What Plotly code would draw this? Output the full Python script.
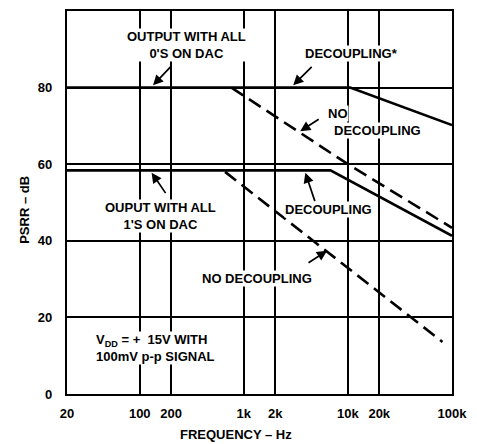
import plotly.graph_objects as go
import math

# Data
freq_0s_dec = [20, 10500, 100000]
psrr_0s_dec = [80, 80, 70.2]
freq_0s_nodec = [760, 10000, 100000]
psrr_0s_nodec = [80, 60, 43.4]
freq_1s_dec = [20, 6800, 100000]
psrr_1s_dec = [58.4, 58.4, 41.3]
freq_1s_nodec = [660, 41000, 81000]
psrr_1s_nodec = [58, 20, 13.6]

x_tickvals = [20, 100, 200, 1000, 2000, 10000, 20000, 100000]
x_ticktext = ["20", "100", "200", "1k", "2k", "10k", "20k", "100k"]
y_tickvals = [0, 20, 40, 60, 80]
y_ticktext = ["0", "20", "40", "60", "80"]

FONT = dict(family="Liberation Sans, Arial, sans-serif", size=13, color="black", weight="bold")

fig = go.Figure()
solid = dict(color="black", width=2.6)
dashed = dict(color="black", width=2.6, dash="14px,7px")
fig.add_trace(go.Scatter(x=freq_0s_dec, y=psrr_0s_dec, mode="lines", line=solid))
fig.add_trace(go.Scatter(x=freq_0s_nodec, y=psrr_0s_nodec, mode="lines", line=dashed))
fig.add_trace(go.Scatter(x=freq_1s_dec, y=psrr_1s_dec, mode="lines", line=solid))
fig.add_trace(go.Scatter(x=freq_1s_nodec, y=psrr_1s_nodec, mode="lines", line=dashed))

ann = []
def text(x, y, t, xanchor="center", align="center"):
    ann.append(dict(x=math.log10(x), y=y, xref="x", yref="y", text=t, showarrow=False,
                    font=FONT, bgcolor="white", xanchor=xanchor, align=align, borderpad=0))

def arrow(x, y, ax, ay):
    ann.append(dict(x=math.log10(x), y=y, xref="x", yref="y", text="", showarrow=True,
                    ax=ax, ay=ay, arrowhead=2, arrowsize=1.2, arrowwidth=1.7, arrowcolor="black"))

text(279, 91.2, "OUTPUT WITH ALL<br>0'S ON DAC")
text(10800, 88.8, "DECOUPLING*")
text(6300, 73.3, "NO", xanchor="left", align="left")
text(7200, 68.8, "DECOUPLING", xanchor="left", align="left")
text(157, 46.6, "OUPUT WITH ALL<br>1'S ON DAC")
text(6500, 48.3, "DECOUPLING")
text(1343, 30.1, "NO DECOUPLING")
text(37.2, 12.1, "V<sub>DD</sub> = +  15V WITH<br>100mV p-p SIGNAL", xanchor="left", align="left")

arrow(134, 80.6, 19, -20)
arrow(2980, 80.6, 20, -20)
arrow(3480, 68.6, 20, -13)
arrow(130, 57.8, 15, 22)
arrow(3900, 57.8, 10, 30)
arrow(6300, 37.4, -20, 13)

# axis titles
ann.append(dict(xref="paper", yref="paper", x=0.44, y=-0.105, yanchor="middle", text="FREQUENCY – Hz",
                showarrow=False, font=FONT))
ann.append(dict(xref="paper", yref="paper", x=-0.11, y=0.48, xanchor="center", text="PSRR – dB",
                textangle=-90, showarrow=False, font=FONT))

# the page body adds an 8px offset, so the figure is 8px smaller and shifted
fig.update_layout(
    width=469, height=436,
    margin=dict(l=59, r=25, t=1, b=50),
    plot_bgcolor="white", paper_bgcolor="white",
    showlegend=False,
    annotations=ann,
    font=FONT,
)
fig.update_xaxes(type="log", range=[math.log10(20), 5], tickvals=x_tickvals, ticktext=x_ticktext,
                 showgrid=True, gridcolor="black", gridwidth=1.5, showline=True, linecolor="black",
                 linewidth=2.2, mirror=True, ticks="outside", ticklen=6, tickcolor="rgba(0,0,0,0)",
                 zeroline=False, tickfont=FONT)
fig.update_yaxes(range=[0, 100], tickvals=y_tickvals, ticktext=y_ticktext,
                 showgrid=True, gridcolor="black", gridwidth=1.5, showline=True, linecolor="black",
                 linewidth=2.2, mirror=True, ticks="outside", ticklen=10, tickcolor="rgba(0,0,0,0)",
                 zeroline=False, tickfont=FONT)

fig.write_html("out.html")
